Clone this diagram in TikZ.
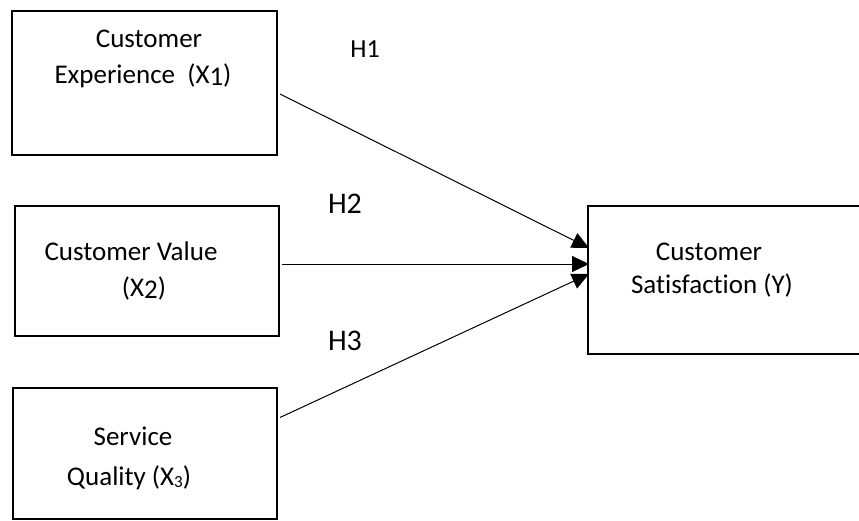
\documentclass[tikz,border=0pt]{standalone}
\usepackage{fontspec}
\setmainfont{Carlito}[Ligatures=NoCommon]
\usetikzlibrary{arrows.meta,calc}
\begin{document}
\begin{tikzpicture}[x=1pt,y=-1pt,
  box/.style={draw,line width=2pt,minimum width=#1,inner sep=0pt,anchor=north west},
  txt/.style={anchor=base,inner sep=0pt,font=\fontsize{27}{32}\selectfont},
  hyp/.style={anchor=base,inner sep=0pt,font=\fontsize{30}{36}\selectfont},
  link/.style={line width=1pt,-{Triangle[length=17pt,width=16pt]}}]
\useasboundingbox (0,0) rectangle (859,520);
\clip (0,0) rectangle (859,520);
% boxes
\node[box=265pt,minimum height=144pt] (b1) at (11,10) {};
\node[box=264pt,minimum height=130pt] (b2) at (14,205) {};
\node[box=264pt,minimum height=131pt] (b3) at (12,387) {};
\node[box=320pt,minimum height=148pt] (b4) at (587,205) {};
% texts
\node[txt] (t1a) at (149,47) {Customer};
\node[txt] (t1b) at (143,83) {Experience\ \ (X\raisebox{-2pt}{1})};
\node[txt] (t2a) at (131,260) {Customer Value};
\node[txt] (t2b) at (144,296) {(X\raisebox{-2pt}{2})};
\node[txt] (t3a) at (133,445) {Service};
\node[txt] (t3b) at (129,485) {Quality (X{\fontsize{17}{20}\selectfont\raisebox{-2pt}{3}})};
\node[txt] (t4a) at (709,260) {Customer};
\node[txt] (t4b) at (712,293) {Satisfaction (Y)};
% hypotheses
\node[anchor=base,inner sep=0pt,font=\fontsize{26}{30}\selectfont] (h1) at (365,57) {H1};
\node[hyp] (h2) at (345,213) {H2};
\node[hyp] (h3) at (345,350) {H3};
% connectors
\draw[link] ($(b1.east)+(2,11)$) -- ($(b4.west)+(2,-32)$);
\draw[link] ($(b2.east)+(2,-7)$) -- ($(b4.west)+(2,-16)$);
\draw[link] ($(b3.east)+(2,-36)$) -- ($(b4.west)+(2,-6)$);
\end{tikzpicture}
\end{document}
